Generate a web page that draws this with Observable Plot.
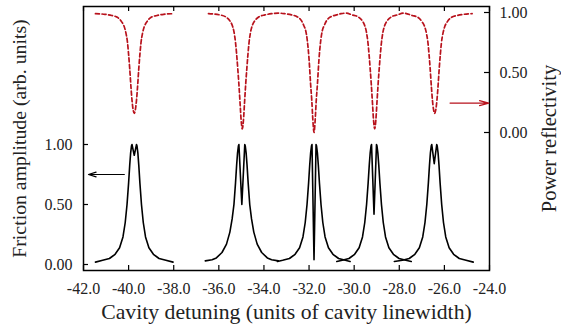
<!DOCTYPE html>
<html>
<head>
<meta charset="utf-8">
<script src="https://cdn.jsdelivr.net/npm/d3@7"></script>
<script src="https://cdn.jsdelivr.net/npm/@observablehq/plot@0.6"></script>
<style>
  html, body { margin: 0; padding: 0; background: white; }
  #chart { position: relative; width: 561px; height: 327px; }
  #chart svg { position: absolute; left: 0; top: 0; }
</style>
</head>
<body>
<div id="chart"></div>
<script>
// ---- tick values and labels ----
const xTicks = [-42, -40, -38, -36, -34, -32, -30, -28, -26, -24];
const frictionTicks = [0, 0.5, 1];
const reflTicks = [0, 0.5, 1];
const xLabel = "Cavity detuning (units of cavity linewidth)";
const frictionLabel = "Friction amplitude (arb. units)";
const reflLabel = "Power reflectivity";

// ---- friction amplitude (black, left axis): one array per resonance [detuning, amplitude] ----
const friction1 = [[-41.47,0.02],[-41.15,0.035],[-40.85,0.05],[-40.60,0.085],[-40.40,0.14],[-40.25,0.23],[-40.15,0.35],[-40.07,0.50],[-40.00,0.68],[-39.95,0.83],[-39.91,0.93],[-39.87,0.99],[-39.85,1.00],[-39.75,0.91],[-39.65,1.00],[-39.63,0.99],[-39.59,0.93],[-39.55,0.83],[-39.50,0.68],[-39.43,0.50],[-39.35,0.35],[-39.25,0.23],[-39.10,0.14],[-38.90,0.085],[-38.65,0.05],[-38.35,0.035],[-38.03,0.02]];
const friction2 = [[-36.60,0.03],[-36.30,0.04],[-36.11,0.055],[-35.86,0.10],[-35.66,0.17],[-35.51,0.27],[-35.41,0.38],[-35.33,0.50],[-35.26,0.68],[-35.21,0.83],[-35.17,0.93],[-35.13,0.99],[-35.11,1.00],[-34.98,0.50],[-34.85,1.00],[-34.83,0.99],[-34.79,0.93],[-34.75,0.83],[-34.70,0.68],[-34.63,0.50],[-34.55,0.38],[-34.45,0.27],[-34.30,0.17],[-34.10,0.10],[-33.85,0.055],[-33.66,0.04],[-33.36,0.03]];
const friction3 = [[-33.40,0.025],[-33.17,0.035],[-32.87,0.05],[-32.62,0.085],[-32.42,0.14],[-32.27,0.23],[-32.17,0.35],[-32.09,0.50],[-32.02,0.68],[-31.97,0.83],[-31.93,0.93],[-31.89,0.99],[-31.87,1.00],[-31.78,0.04],[-31.69,1.00],[-31.67,0.99],[-31.63,0.93],[-31.59,0.83],[-31.54,0.68],[-31.47,0.50],[-31.39,0.35],[-31.29,0.23],[-31.14,0.14],[-30.94,0.085],[-30.69,0.05],[-30.39,0.035],[-30.18,0.025]];
const friction4 = [[-30.77,0.025],[-30.53,0.035],[-30.23,0.05],[-29.98,0.085],[-29.78,0.14],[-29.63,0.23],[-29.53,0.35],[-29.45,0.50],[-29.38,0.68],[-29.33,0.83],[-29.29,0.93],[-29.25,0.99],[-29.23,1.00],[-29.12,0.42],[-29.01,1.00],[-28.99,0.99],[-28.95,0.93],[-28.91,0.83],[-28.86,0.68],[-28.79,0.50],[-28.71,0.35],[-28.61,0.23],[-28.46,0.14],[-28.26,0.085],[-28.01,0.05],[-27.71,0.035],[-27.47,0.025]];
const friction5 = [[-28.22,0.025],[-27.86,0.035],[-27.56,0.05],[-27.31,0.085],[-27.11,0.14],[-26.96,0.23],[-26.86,0.35],[-26.78,0.50],[-26.71,0.68],[-26.66,0.83],[-26.62,0.93],[-26.58,0.99],[-26.56,1.00],[-26.45,0.84],[-26.34,1.00],[-26.32,0.99],[-26.28,0.93],[-26.24,0.83],[-26.19,0.68],[-26.12,0.50],[-26.04,0.35],[-25.94,0.23],[-25.79,0.14],[-25.59,0.085],[-25.34,0.05],[-25.04,0.035],[-24.72,0.02]];

// ---- power reflectivity (red dashed, right axis) [detuning, reflectivity] ----
const refl1 = [[-41.47,0.99],[-41.05,0.985],[-40.75,0.975],[-40.50,0.96],[-40.30,0.92],[-40.20,0.885],[-40.12,0.83],[-40.05,0.75],[-40.00,0.65],[-39.95,0.53],[-39.90,0.39],[-39.85,0.27],[-39.80,0.19],[-39.75,0.16],[-39.70,0.19],[-39.65,0.27],[-39.60,0.39],[-39.55,0.53],[-39.50,0.65],[-39.45,0.75],[-39.38,0.83],[-39.30,0.885],[-39.20,0.92],[-39.00,0.96],[-38.75,0.975],[-38.45,0.985],[-38.00,0.99]];
const refl2 = [[-36.46,0.99],[-35.96,0.98],[-35.71,0.965],[-35.51,0.93],[-35.41,0.895],[-35.33,0.84],[-35.26,0.75],[-35.21,0.65],[-35.16,0.53],[-35.11,0.40],[-35.06,0.25],[-35.01,0.10],[-34.96,0.03],[-34.91,0.10],[-34.86,0.25],[-34.81,0.40],[-34.76,0.53],[-34.71,0.65],[-34.66,0.75],[-34.59,0.84],[-34.51,0.895],[-34.41,0.93],[-34.21,0.965],[-33.96,0.98],[-33.66,0.99],[-33.37,0.995]];
const refl3 = [[-33.08,0.99],[-32.78,0.98],[-32.53,0.965],[-32.33,0.93],[-32.23,0.89],[-32.15,0.85],[-32.08,0.77],[-32.00,0.61],[-31.93,0.40],[-31.88,0.27],[-31.83,0.10],[-31.78,0.00],[-31.73,0.10],[-31.68,0.27],[-31.63,0.40],[-31.56,0.61],[-31.48,0.77],[-31.41,0.85],[-31.33,0.89],[-31.23,0.93],[-31.03,0.965],[-30.78,0.98],[-30.58,0.99],[-30.35,0.995]];
const refl4 = [[-30.09,0.98],[-29.84,0.965],[-29.64,0.93],[-29.54,0.895],[-29.46,0.84],[-29.39,0.75],[-29.34,0.65],[-29.29,0.53],[-29.24,0.40],[-29.19,0.25],[-29.14,0.10],[-29.09,0.03],[-29.04,0.10],[-28.99,0.25],[-28.94,0.40],[-28.89,0.53],[-28.84,0.65],[-28.79,0.75],[-28.72,0.84],[-28.64,0.895],[-28.54,0.93],[-28.34,0.965],[-28.09,0.98],[-27.80,0.995]];
const refl5 = [[-27.43,0.975],[-27.18,0.96],[-26.98,0.92],[-26.88,0.885],[-26.80,0.83],[-26.73,0.75],[-26.68,0.65],[-26.63,0.53],[-26.58,0.39],[-26.53,0.27],[-26.48,0.19],[-26.43,0.16],[-26.38,0.19],[-26.33,0.27],[-26.28,0.39],[-26.23,0.53],[-26.18,0.65],[-26.13,0.75],[-26.06,0.83],[-25.98,0.885],[-25.88,0.92],[-25.68,0.96],[-25.43,0.975],[-25.13,0.985],[-24.77,0.99]];

// ---- annotation arrows ----
const frictionArrow = [{x1: -40.19, x2: -41.78, y: 0.75}];
const reflArrow = [{x1: -25.75, x2: -24.03, y: 0.245}];

// ---- layout ----
const W = 561, H = 327, ML = 83, MR = 72, MT = 6, MB = 57;
const innerW = W - ML - MR, innerH = H - MT - MB;
const tick = 5;
const font = "Liberation Serif";
const red = "#b8121c";
const ink = "#222";
const tickFont = 16;

const common = {
  width: W, height: H,
  marginLeft: ML, marginRight: MR, marginTop: MT, marginBottom: MB,
};

const frictionCurves = [friction1, friction2, friction3, friction4, friction5];
const reflCurves = [refl1, [...refl2, ...refl3, ...refl4, ...refl5]];

const p1 = Plot.plot({
  ...common,
  style: {fontFamily: font, fontSize: "16px", color: "black", background: "transparent"},
  x: {domain: [-42, -24], axis: null},
  y: {domain: [-0.05, 2.15], axis: null},
  marks: [
    // tick labels (text marks positioned by the scales)
    Plot.text(xTicks, {x: d => d, frameAnchor: "bottom", dy: 12, lineAnchor: "top", text: d => d.toFixed(1), fontSize: tickFont, fontFamily: font, fill: ink}),
    Plot.text(frictionTicks, {y: d => d, frameAnchor: "left", dx: -11, textAnchor: "end", lineAnchor: "middle", text: d => d.toFixed(2), fontSize: tickFont, fontFamily: font, fill: ink}),
    // inward ticks
    Plot.ruleX(xTicks, {insetTop: innerH - tick, stroke: "black", strokeWidth: 1.2}),
    Plot.ruleX(xTicks, {insetBottom: innerH - tick, stroke: "black", strokeWidth: 1.2}),
    Plot.ruleY(frictionTicks, {insetRight: innerW - tick, stroke: "black", strokeWidth: 1.2}),
    ...frictionCurves.map(c => Plot.line(c, {x: d => d[0], y: d => d[1], stroke: "black", strokeWidth: 1.6, curve: "linear"})),
    Plot.arrow(frictionArrow, {x1: "x1", x2: "x2", y1: "y", y2: "y", stroke: "black", strokeWidth: 1.2, headLength: 10, headAngle: 35}),
    Plot.frame({stroke: "black", strokeWidth: 1.5}),
    Plot.text([xLabel], {frameAnchor: "bottom", dy: 42, lineAnchor: "middle", textAnchor: "middle", fontSize: 21.7, fontFamily: font, fill: ink}),
    Plot.text([frictionLabel], {frameAnchor: "left", dx: -64, lineAnchor: "middle", textAnchor: "middle", rotate: -90, fontSize: 19.8, fontFamily: font, fill: ink})
  ]
});

const p2 = Plot.plot({
  ...common,
  style: {fontFamily: font, fontSize: "16px", color: "black", background: "transparent"},
  x: {domain: [-42, -24], axis: null},
  y: {domain: [-1.15, 1.05], axis: null},
  marks: [
    Plot.text(reflTicks, {y: d => d, frameAnchor: "right", dx: 10, textAnchor: "start", lineAnchor: "middle", text: d => d.toFixed(2), fontSize: tickFont, fontFamily: font, fill: ink}),
    Plot.ruleY(reflTicks, {insetLeft: innerW - tick, stroke: "black", strokeWidth: 1.2}),
    ...reflCurves.map(c => Plot.line(c, {x: d => d[0], y: d => d[1], stroke: red, strokeWidth: 1.7, strokeDasharray: "4,2.6", curve: "monotone-x"})),
    Plot.arrow(reflArrow, {x1: "x1", x2: "x2", y1: "y", y2: "y", stroke: red, strokeWidth: 1.2, headLength: 12, headAngle: 30}),
    Plot.text([reflLabel], {frameAnchor: "right", dx: 60, lineAnchor: "middle", textAnchor: "middle", rotate: -90, fontSize: 20.5, fontFamily: font, fill: ink})
  ]
});

document.getElementById("chart").append(p1, p2);
</script>
</body>
</html>
